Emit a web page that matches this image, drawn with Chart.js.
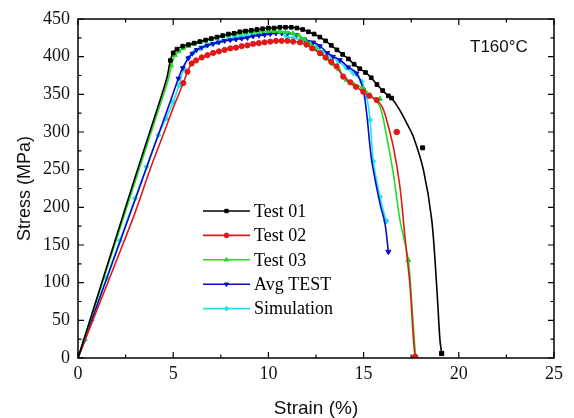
<!DOCTYPE html>
<html>
<head>
<meta charset="utf-8">
<script src="https://cdn.jsdelivr.net/npm/chart.js@4.4.1/dist/chart.umd.min.js"></script>
<style>
html,body{margin:0;padding:0;background:#fff;}
#wrap{width:574px;height:418px;position:relative;}
</style>
</head>
<body>
<div id="wrap"><canvas id="c" width="574" height="418"></canvas></div>
<script>
// ---- Data ----
const xTicks = [0, 5, 10, 15, 20, 25];
const yTicks = [0, 50, 100, 150, 200, 250, 300, 350, 400, 450];
const seriesNames = ["Test 01", "Test 02", "Test 03", "Avg TEST", "Simulation"];
const annotation = "T160°C";

const test01X = [0,1,2,3,4,4.66,4.85,5.0,5.2,5.5,5.8,6.1,6.4,6.7,7.0,7.3,7.6,7.9,8.2,8.5,8.8,9.1,9.4,9.7,10.0,10.3,10.6,10.9,11.2,11.5,11.8,12.1,12.4,12.7,13.0,13.3,13.6,13.9,14.2,14.5,14.8,15.1,15.4,15.7,16.0,16.3,16.47,16.9,17.3,17.61,18.14,18.58,18.84,19.01,19.1];
const test01Y = [0,80,160,240,318,371,395,405,410,414,416,418,420,422,424,426,428,430,431,433,434,435,436,437,438,438,439,439,439,438,436,433,430,426,421,415,409,403,397,390,384,379,372,363,355,348,345,329,310,294,250,183,95,24,6];

const test02X = [0,1,2,3,3.78,4.5,5.0,5.53,5.75,5.97,6.2,6.5,6.8,7.1,7.4,7.7,8.0,8.3,8.6,8.9,9.2,9.5,9.8,10.1,10.4,10.7,11.0,11.3,11.66,12.0,12.3,12.71,13.0,13.3,13.58,13.93,14.3,14.6,14.98,15.3,15.69,16.0,16.21,16.56,16.91,17.17,17.44,17.61,17.7];
const test02Y = [0,64,128,193,250,298,332,365,380,391,395,399,402,405,407,409,411,412,414,415,417,418,419,420,421,421,421,420,419,416,411,404.5,399,393,387,373.5,366,360,353.5,348,342.5,332,316,280.5,227,161,95,28,1];

const test03X = [0,1,2,3,4,4.7,4.9,5.09,5.3,5.53,5.8,6.1,6.4,6.7,7.0,7.3,7.6,7.9,8.2,8.5,8.8,9.1,9.4,9.7,10.0,10.3,10.6,10.9,11.3,11.6,11.9,12.2,12.5,12.8,13.1,13.4,13.7,14.1,14.5,14.98,15.34,15.86,16.21,16.56,16.91,17.35,17.53,17.7,17.72];
const test03Y = [0,78,156,234,312,366,388,402,407,411,414,417,419,421,423,425,427,428,430,431,432,433,433,434,434,434,433,432,431,428,423,417,410,404,397,390,383,369,363,358,349,333.6,294,245,183,130,72.6,10.6,3];

const avgX = [0,1,2,3,4,4.8,5.27,5.5,5.79,6.0,6.23,6.5,6.8,7.1,7.4,7.7,8.0,8.3,8.6,8.9,9.2,9.5,9.8,10.1,10.4,10.7,11.0,11.48,11.9,12.36,12.71,13.1,13.4,13.76,14.2,14.64,14.98,15.16,15.42,15.86,16.12,16.3];
const avgY = [0,70,140,210,281,337,371,385,398,404,409,412,415,417,419,421,422,423,424,425,427,428,429,430,431,431,431,429,423,419,414,405,400,395.6,386,378,356,325,263,205,179,141];

const simX = [0,0.37,0.72,1.5,2.2,3.0,3.6,4.22,4.62,5.0,5.3,5.55,5.8,6.1,6.4,6.7,7.0,7.3,7.6,7.9,8.2,8.5,8.8,9.1,9.4,9.7,10.0,10.3,10.6,10.96,11.3,11.7,12.1,12.5,12.9,13.3,13.7,14.1,14.46,14.9,15.16,15.34,15.51,15.86,16.18];
const simY = [0,24,50,106,156,212,254,296,318,340,362,384,398,406,411,414,417,419,421,423,425,427,428,429,430,431,432,433,433,426.5,425,422,418,413,406,400,393,385,378,367,347,316,261,214,182];

// stray markers (symbols lying off the drawn curves)
const test01MarkX = [18.1];
const test01MarkY = [279];
const test02MarkX = [16.74];
const test02MarkY = [300];
const test03MarkX = [15.86, 17.35];
const test03MarkY = [344, 130];

// ---- build ----
const pts = (xs, ys) => xs.map((x, i) => ({x: x, y: ys[i]}));

const styles = [
  {color: '#000000', pointStyle: 'rect', rotation: 0, markMin: 4.8, markMax: 16.5},
  {color: '#e01818', pointStyle: 'circle', rotation: 0, markMin: 5.4, markMax: 15.7},
  {color: '#22dd22', pointStyle: 'triangle', rotation: 0, markMin: 4.85, markMax: 15.4},
  {color: '#0a0ac8', pointStyle: 'triangle', rotation: 180, markMin: 5.2, markMax: 15.0},
  {color: '#1ee4f0', pointStyle: 'rectRot', rotation: 0, markMin: 0, markMax: 30}
];
const lineData = [pts(test01X, test01Y), pts(test02X, test02Y), pts(test03X, test03Y), pts(avgX, avgY), pts(simX, simY)];
const markData = [pts(test01MarkX, test01MarkY), pts(test02MarkX, test02MarkY), pts(test03MarkX, test03MarkY), [], []];

const datasets = [];
lineData.forEach((d, k) => {
  const s = styles[k];
  datasets.push({
    label: seriesNames[k],
    data: d,
    showLine: true,
    borderColor: s.color,
    backgroundColor: s.color,
    borderWidth: 1.6,
    pointStyle: s.pointStyle,
    rotation: s.rotation,
    pointBorderWidth: 1,
    tension: 0.3,
    pointRadius: (ctx) => {
      const p = ctx.raw; const n = ctx.dataset.data.length;
      if (!p) return 0;
      if (ctx.dataIndex === n - 1) return 3;
      return (p.x >= s.markMin && p.x <= s.markMax) ? 2.6 : 0;
    },
    pointHoverRadius: 0
  });
});
markData.forEach((d, k) => {
  if (!d.length) return;
  const s = styles[k];
  datasets.push({
    label: seriesNames[k] + ' marks',
    data: d,
    showLine: false,
    borderColor: s.color,
    backgroundColor: s.color,
    pointStyle: s.pointStyle,
    rotation: s.rotation,
    pointRadius: 2.8,
    pointBorderWidth: 1
  });
});

const PLOT = {left: 78, right: 554, top: 19, bottom: 358};

const framePlugin = {
  id: 'frame',
  afterDatasetsDraw(chart) {
    const {ctx, chartArea: a, scales: {x, y}} = chart;
    ctx.save();
    ctx.strokeStyle = '#000';
    ctx.lineWidth = 1.5;
    ctx.strokeRect(a.left, a.top, a.right - a.left, a.bottom - a.top);
    ctx.lineWidth = 1.2;
    ctx.beginPath();
    for (let v = 0; v <= 25.001; v += 2.5) {
      const px = x.getPixelForValue(v);
      const len = (Math.abs(v / 5 - Math.round(v / 5)) < 1e-6) ? 6 : 3.5;
      ctx.moveTo(px, a.bottom); ctx.lineTo(px, a.bottom - len);
      ctx.moveTo(px, a.top); ctx.lineTo(px, a.top + len);
    }
    for (let v = 0; v <= 450.001; v += 25) {
      const py = y.getPixelForValue(v);
      const len = (v % 50 === 0) ? 6 : 3.5;
      ctx.moveTo(a.left, py); ctx.lineTo(a.left + len, py);
      ctx.moveTo(a.right, py); ctx.lineTo(a.right - len, py);
    }
    ctx.stroke();
    ctx.restore();
  },
  afterDraw(chart) {
    const {ctx} = chart;
    ctx.save();
    // legend
    const x0 = 203, x1 = 250, tx = 254, yStart = 211, step = 24.4;
    ctx.font = '18px "Liberation Serif", "Times New Roman", serif';
    ctx.textBaseline = 'middle';
    ctx.textAlign = 'left';
    seriesNames.forEach((name, i) => {
      const s = styles[i];
      const yy = yStart + i * step;
      ctx.strokeStyle = s.color;
      ctx.fillStyle = s.color;
      ctx.lineWidth = 1.6;
      ctx.beginPath(); ctx.moveTo(x0, yy); ctx.lineTo(x1, yy); ctx.stroke();
      ctx.lineWidth = 1;
      Chart.helpers.drawPoint(ctx, {pointStyle: s.pointStyle, rotation: s.rotation, radius: 2.4, borderWidth: 1}, (x0 + x1) / 2, yy);
      ctx.fillStyle = '#000';
      ctx.fillText(name, tx, yy + 1);
    });
    // annotation
    ctx.font = '17px "Liberation Sans", Arial, sans-serif';
    ctx.fillStyle = '#111';
    ctx.fillText(annotation, 470, 47);
    ctx.restore();
  }
};

new Chart(document.getElementById('c'), {
  type: 'scatter',
  data: {datasets: datasets},
  plugins: [framePlugin],
  options: {
    responsive: false,
    animation: false,
    events: [],
    layout: {padding: {left: 0, right: 574 - PLOT.right, top: PLOT.top, bottom: 0}},
    plugins: {legend: {display: false}, tooltip: {enabled: false}},
    scales: {
      x: {
        type: 'linear', min: 0, max: 25,
        afterBuildTicks: (s) => { s.ticks = xTicks.map(v => ({value: v})); },
        afterFit: (s) => { s.height = 418 - PLOT.bottom; },
        grid: {display: false, drawTicks: false},
        border: {display: false},
        ticks: {color: '#111', padding: 5, font: {family: '"Liberation Serif", "Times New Roman", serif', size: 18}},
        title: {display: true, text: 'Strain (%)', color: '#111', padding: {top: 0, bottom: 0},
                font: {family: '"Liberation Sans", Arial, sans-serif', size: 19, lineHeight: 1}}
      },
      y: {
        type: 'linear', min: 0, max: 450,
        afterBuildTicks: (s) => { s.ticks = yTicks.map(v => ({value: v})); },
        afterFit: (s) => { s.width = PLOT.left; },
        grid: {display: false, drawTicks: false},
        border: {display: false},
        ticks: {color: '#111', padding: 8, font: {family: '"Liberation Serif", "Times New Roman", serif', size: 18}},
        title: {display: true, text: 'Stress (MPa)', color: '#111', padding: {top: 16, bottom: 0},
                font: {family: '"Liberation Sans", Arial, sans-serif', size: 18, lineHeight: 1}}
      }
    }
  }
});
</script>
</body>
</html>
